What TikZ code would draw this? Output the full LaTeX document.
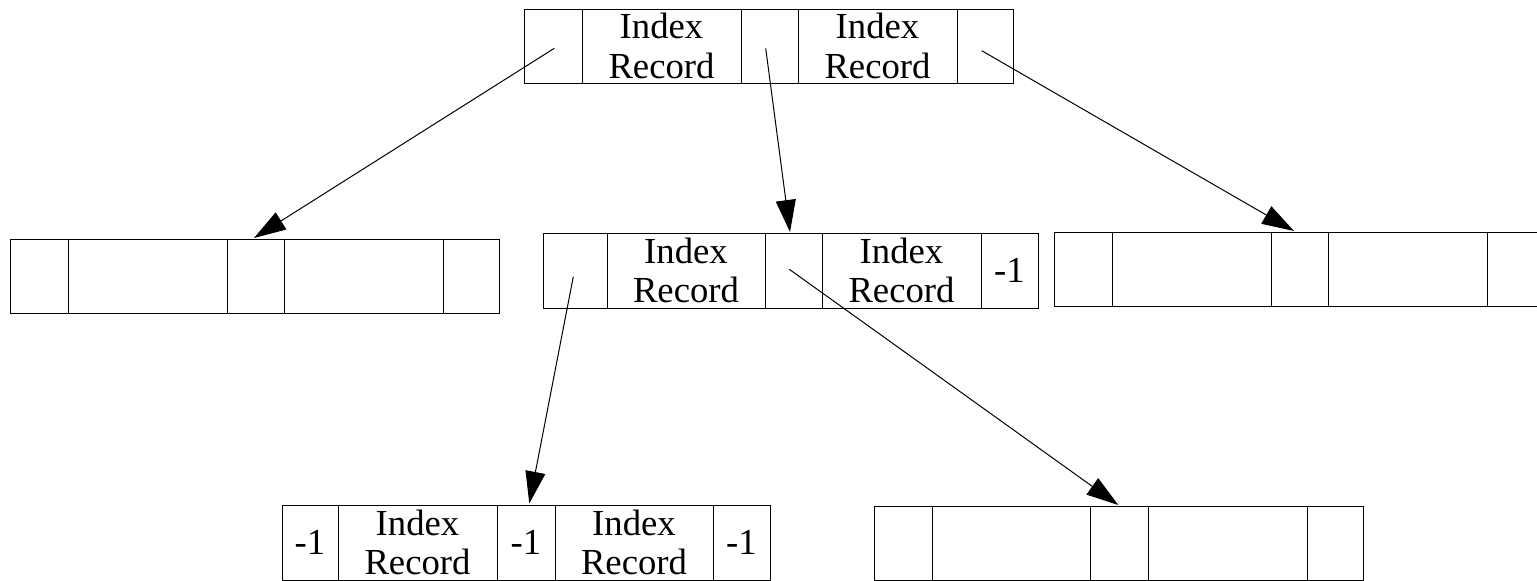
\documentclass[tikz,border=0pt]{standalone}
\usepackage{fontspec}
\setmainfont{Liberation Serif}
\usetikzlibrary{arrows.meta}
\begin{document}
\begin{tikzpicture}[x=1pt,y=-1pt,
  cell/.style={draw=black, line width=1pt, anchor=north west, inner sep=0pt, outer sep=0pt,
    align=center, font=\fontsize{36.7}{39.4}\selectfont},
  ptr/.style={draw=black, line width=1pt, -{Triangle[length=32pt,width=20pt]}}]
\useasboundingbox (0,0) rectangle (1537,581);
\clip (0,0) rectangle (1537,581);
% top box
\node[cell, minimum width=58, minimum height=74] (a1) at (524,9) {};
\node[cell, minimum width=159, minimum height=74] (a2) at (582,9) {Index\\Record};
\node[cell, minimum width=57, minimum height=74] (a3) at (741,9) {};
\node[cell, minimum width=159, minimum height=74] (a4) at (798,9) {Index\\Record};
\node[cell, minimum width=56, minimum height=74] (a5) at (957,9) {};
% left middle box
\node[cell, minimum width=58, minimum height=74] (b1) at (10,239) {};
\node[cell, minimum width=159, minimum height=74] (b2) at (68,239) {};
\node[cell, minimum width=57, minimum height=74] (b3) at (227,239) {};
\node[cell, minimum width=159, minimum height=74] (b4) at (284,239) {};
\node[cell, minimum width=56, minimum height=74] (b5) at (443,239) {};
% centre middle box
\node[cell, minimum width=64, minimum height=75] (c1) at (543,233) {};
\node[cell, minimum width=158, minimum height=75] (c2) at (607,233) {Index\\Record};
\node[cell, minimum width=57, minimum height=75] (c3) at (765,233) {};
\node[cell, minimum width=159, minimum height=75] (c4) at (822,233) {Index\\Record};
\node[cell, minimum width=57, minimum height=75] (c5) at (981,233) {-1};
% right middle box
\node[cell, minimum width=58, minimum height=74] (d1) at (1054,232) {};
\node[cell, minimum width=159, minimum height=74] (d2) at (1112,232) {};
\node[cell, minimum width=57, minimum height=74] (d3) at (1271,232) {};
\node[cell, minimum width=159, minimum height=74] (d4) at (1328,232) {};
\node[cell, minimum width=57, minimum height=74] (d5) at (1487,232) {};
% bottom left box
\node[cell, minimum width=56, minimum height=75] (e1) at (282,505) {-1};
\node[cell, minimum width=159, minimum height=75] (e2) at (338,505) {Index\\Record};
\node[cell, minimum width=58, minimum height=75] (e3) at (497,505) {-1};
\node[cell, minimum width=158, minimum height=75] (e4) at (555,505) {Index\\Record};
\node[cell, minimum width=57, minimum height=75] (e5) at (713,505) {-1};
% bottom right box
\node[cell, minimum width=58, minimum height=74] (f1) at (874,506) {};
\node[cell, minimum width=158, minimum height=74] (f2) at (932,506) {};
\node[cell, minimum width=58, minimum height=74] (f3) at (1090,506) {};
\node[cell, minimum width=159, minimum height=74] (f4) at (1148,506) {};
\node[cell, minimum width=56, minimum height=74] (f5) at (1307,506) {};
% pointers
\draw[ptr] ([shift={(1.3,2.3)}]a1.center) -- ([shift={(-1.5,-1)}]b3.north);
\draw[ptr] ([shift={(-3.8,2.3)}]a3.center) -- ([shift={(-3.5,-1)}]c3.north);
\draw[ptr] ([shift={(-3.3,4.7)}]a5.center) -- ([shift={(-5.5,-1)}]d3.north);
\draw[ptr] ([shift={(-1.7,6.2)}]c1.center) -- ([shift={(3.3,-1.5)}]e3.north);
\draw[ptr] ([shift={(-4.2,-1.2)}]c3.center) -- ([shift={(-0.7,-1)}]f3.north);
\end{tikzpicture}
\end{document}
